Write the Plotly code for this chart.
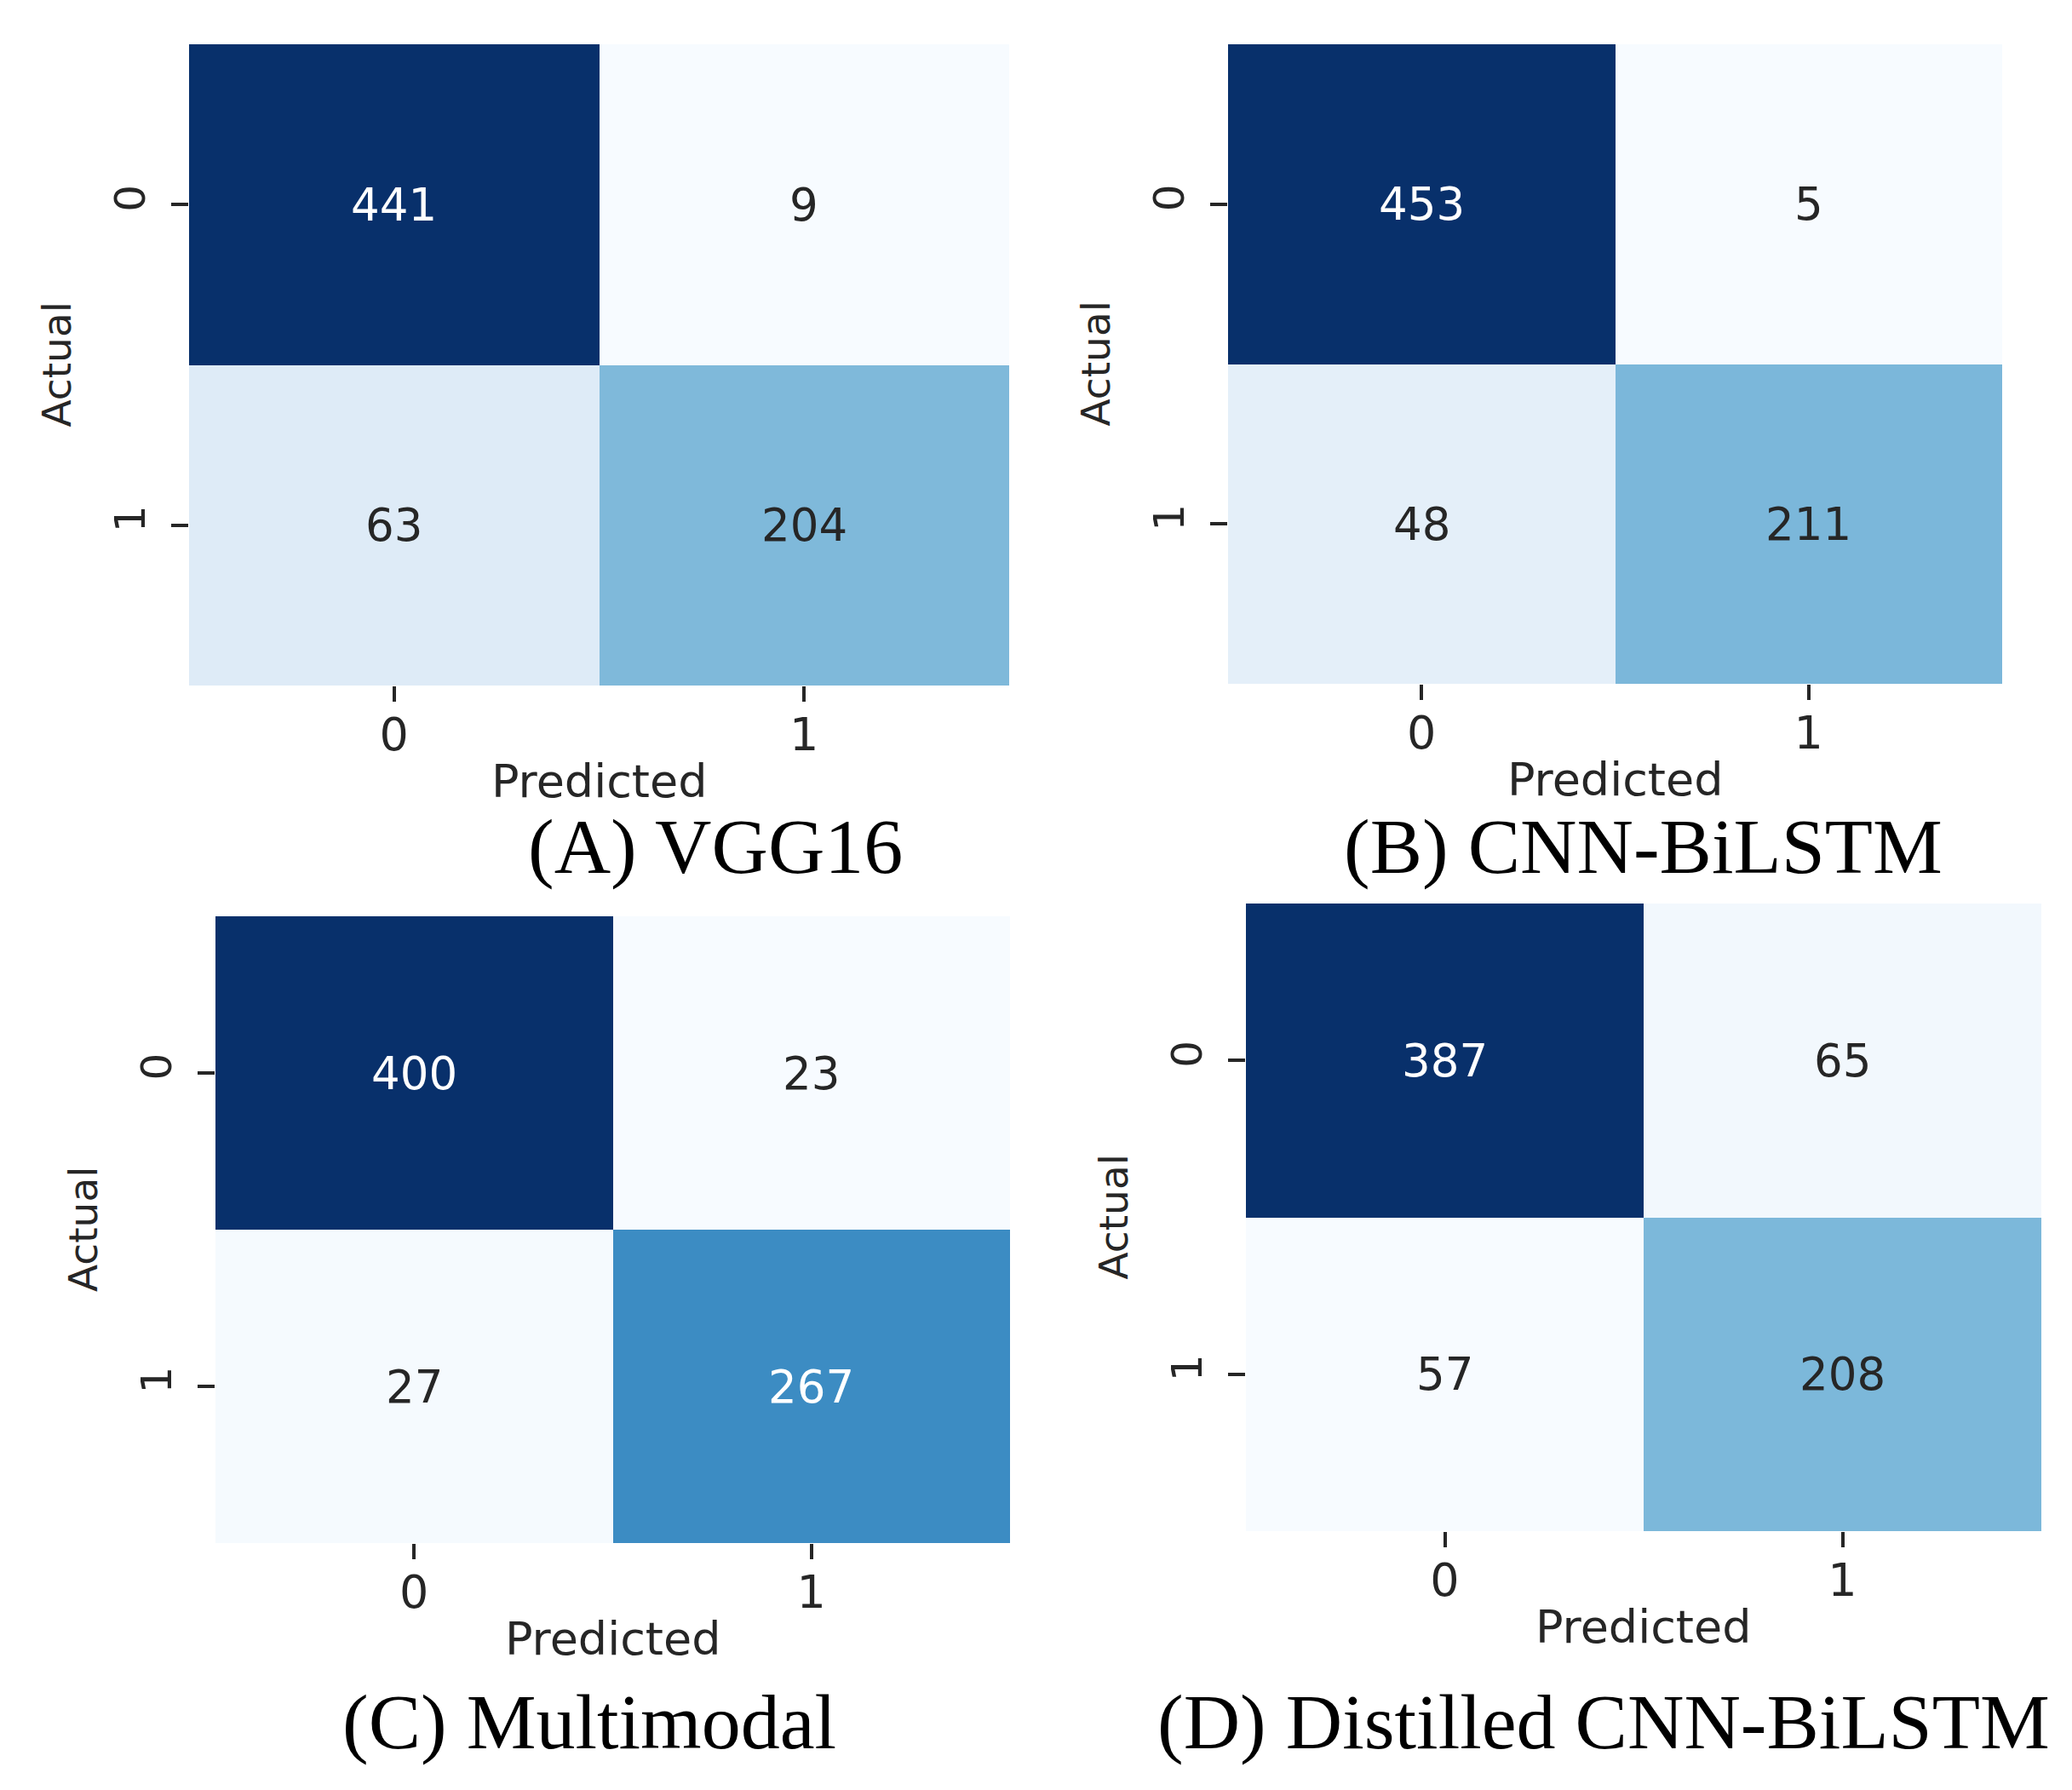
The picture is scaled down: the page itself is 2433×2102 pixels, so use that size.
import plotly.graph_objects as go

# ---- data ----
labels = ["0", "1"]
panel_titles = ["(A) VGG16", "(B) CNN-BiLSTM", "(C) Multimodal", "(D) Distilled CNN-BiLSTM"]
cm_vgg16 = [[441, 9], [63, 204]]
cm_cnn_bilstm = [[453, 5], [48, 211]]
cm_multimodal = [[400, 23], [27, 267]]
cm_distilled = [[387, 65], [57, 208]]
matrices = [cm_vgg16, cm_cnn_bilstm, cm_multimodal, cm_distilled]

BLUES = ["#f7fbff", "#deebf7", "#c6dbef", "#9ecae1", "#6baed6",
         "#4292c6", "#2171b5", "#08519c", "#08306b"]
colorscale = [[i / 8, c] for i, c in enumerate(BLUES)]

W, H = 2433, 2102


def hex2rgb(h):
    h = h.lstrip("#")
    return [int(h[i:i + 2], 16) / 255 for i in (0, 2, 4)]


def blues_at(t):
    t = min(max(t, 0), 1) * 8
    i = min(int(t), 7)
    f = t - i
    a, b = hex2rgb(BLUES[i]), hex2rgb(BLUES[i + 1])
    return [a[k] + (b[k] - a[k]) * f for k in range(3)]


def lum(rgb):
    def ch(c):
        return c / 12.92 if c <= 0.03928 else ((c + 0.055) / 1.055) ** 2.4
    r, g, b = [ch(c) for c in rgb]
    return 0.2126 * r + 0.7152 * g + 0.0722 * b


# pixel boxes of heatmaps: (x0, x1, y0, y1)
boxes = [(214, 1177, 44, 797), (1434, 2343, 44, 795),
         (245, 1178, 1068, 1804), (1455, 2389, 1053, 1790)]
title_pos = [(832, 986), (1922, 986), (684, 2014), (1875, 2014)]

fig = go.Figure()
annotations = []
SANS = "DejaVu Sans"
DARK = "#262626"
for k, (m, box) in enumerate(zip(matrices, boxes)):
    x0, x1, y0, y1 = box
    sfx = "" if k == 0 else str(k + 1)
    zmin = min(min(r) for r in m)
    zmax = max(max(r) for r in m)
    fig.add_trace(go.Heatmap(
        z=m, x=[0, 1], y=[0, 1], colorscale=colorscale, zmin=zmin, zmax=zmax,
        showscale=False, xgap=0, ygap=0, hoverinfo="skip",
        xaxis="x" + sfx, yaxis="y" + sfx))
    common = dict(tickmode="array", tickvals=[0, 1], ticktext=labels,
                  ticks="outside", tickwidth=3.5, tickcolor=DARK,
                  showgrid=False, zeroline=False, showline=False)
    fig.update_layout(**{
        "xaxis" + sfx: dict(domain=[x0 / W, x1 / W], anchor="y" + sfx,
                            range=[-0.5, 1.5], ticklen=18,
                            ticklabelstandoff=-8,
                            tickfont=dict(family=SANS, size=54, color=DARK),
                            **common),
        "yaxis" + sfx: dict(domain=[1 - y1 / H, 1 - y0 / H], anchor="x" + sfx,
                            range=[1.5, -0.5], tickangle=-90, ticklen=20,
                            ticklabelstandoff=11,
                            tickfont=dict(family=SANS, size=50, color=DARK),
                            **common),
    })
    # cell annotations
    for i in range(2):
        for j in range(2):
            v = m[i][j]
            rgb = blues_at((v - zmin) / (zmax - zmin))
            col = "white" if lum(rgb) <= 0.408 else DARK
            annotations.append(dict(x=j, y=i, xref="x" + sfx, yref="y" + sfx,
                                    text=str(v), showarrow=False,
                                    font=dict(family=SANS, size=53, color=col)))
    # axis titles
    annotations.append(dict(x=(x0 + x1) / 2 / W, y=1 - (y1 + 112) / H,
                            xref="paper", yref="paper", text="Predicted",
                            showarrow=False, xanchor="center", yanchor="middle",
                            font=dict(family=SANS, size=54, color=DARK)))
    annotations.append(dict(x=(x0 - 156) / W, y=1 - (y0 + y1) / 2 / H,
                            xref="paper", yref="paper", text="Actual",
                            showarrow=False, textangle=-90,
                            xanchor="center", yanchor="middle",
                            font=dict(family=SANS, size=47, color=DARK)))
    tx, ty = title_pos[k]
    annotations.append(dict(x=tx / W, y=1 - ty / H, xref="paper", yref="paper",
                            text=panel_titles[k], showarrow=False,
                            xanchor="center", yanchor="middle",
                            font=dict(family="Liberation Serif", size=92,
                                      color="black")))

fig.update_layout(width=W, height=H, margin=dict(l=0, r=0, t=0, b=0),
                  paper_bgcolor="white", plot_bgcolor="white",
                  annotations=annotations, showlegend=False)
fig.write_html("out.html")
